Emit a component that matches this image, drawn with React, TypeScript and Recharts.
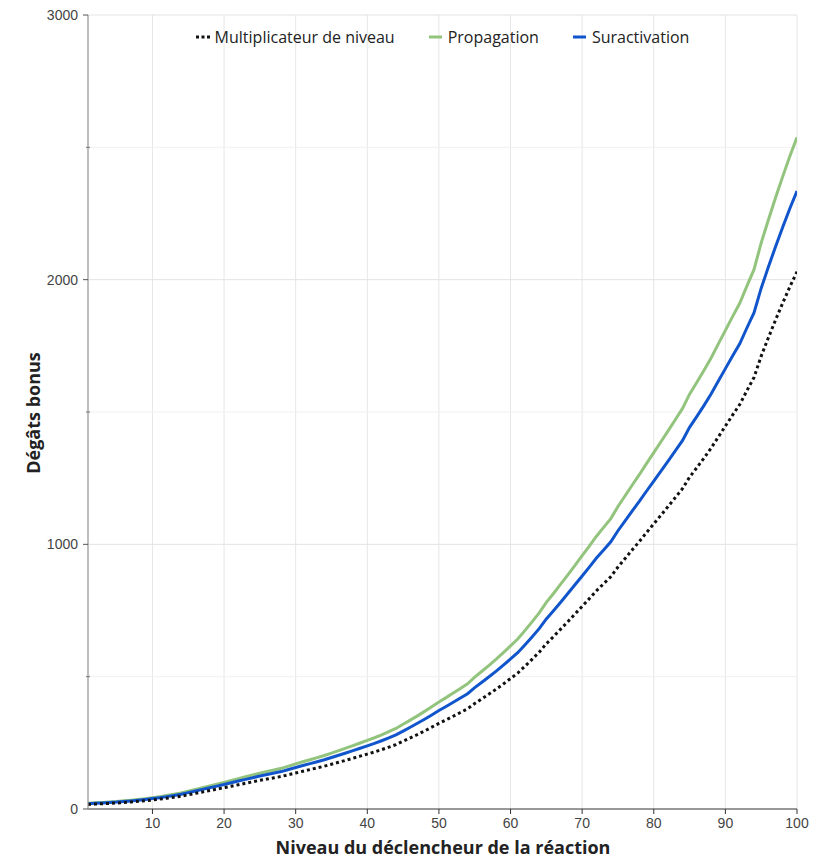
import React from 'react';
import { LineChart, Line, XAxis, YAxis, CartesianGrid, ReferenceLine, Legend } from 'recharts';

const levels: number[] = Array.from({ length: 100 }, (_, i) => i + 1);

const multiplicateur: number[] = [
  17.2, 18.5, 19.9, 21.3, 22.6, 24.6, 26.6, 28.9, 31.4, 34.1,
  37.2, 40.7, 44.4, 48.6, 53.7, 59.1, 64.4, 69.7, 75.1, 80.6,
  86.1, 91.7, 97.2, 102.8, 108.4, 113.2, 118.1, 123.0, 129.7, 136.3,
  142.7, 149.0, 155.4, 161.8, 169.1, 176.5, 184.1, 191.7, 199.6, 207.4,
  215.4, 224.2, 233.5, 243.4, 256.1, 268.5, 281.5, 295.0, 309.1, 323.6,
  336.8, 350.5, 364.5, 378.6, 398.6, 416.4, 434.4, 453.0, 472.6, 492.9,
  513.6, 539.1, 565.5, 592.5, 624.4, 651.5, 679.5, 707.8, 736.7, 765.6,
  794.8, 824.7, 851.2, 877.7, 914.2, 946.7, 979.4, 1011.2, 1044.8, 1077.4,
  1110.0, 1143.0, 1176.4, 1210.2, 1253.8, 1289.0, 1325.5, 1363.5, 1405.1, 1446.9,
  1488.2, 1528.4, 1580.4, 1630.8, 1711.2, 1780.5, 1847.3, 1911.5, 1972.9, 2030.1,
];

const propagation: number[] = [
  21.5, 23.2, 24.9, 26.6, 28.3, 30.8, 33.3, 36.1, 39.2, 42.7,
  46.5, 50.8, 55.6, 60.7, 67.2, 73.9, 80.5, 87.2, 93.9, 100.7,
  107.6, 114.6, 121.6, 128.5, 135.5, 141.5, 147.6, 153.7, 162.2, 170.4,
  178.3, 186.3, 194.3, 202.3, 211.4, 220.6, 230.1, 239.6, 249.4, 259.2,
  269.2, 280.2, 291.9, 304.2, 320.1, 335.7, 351.9, 368.8, 386.3, 404.5,
  420.9, 438.2, 455.6, 473.3, 498.3, 520.5, 543.0, 566.2, 590.8, 616.1,
  642.0, 673.9, 706.9, 740.7, 780.6, 814.3, 849.4, 884.7, 920.8, 957.1,
  993.5, 1030.8, 1063.9, 1097.2, 1142.8, 1183.4, 1224.3, 1264.0, 1306.0, 1346.8,
  1387.5, 1428.7, 1470.5, 1512.7, 1567.3, 1611.2, 1656.9, 1704.3, 1756.4, 1808.6,
  1860.3, 1910.6, 1975.5, 2038.6, 2139.0, 2225.6, 2309.2, 2389.3, 2466.1, 2537.6,
];

const suractivation: number[] = [
  19.7, 21.3, 22.9, 24.5, 26.0, 28.3, 30.6, 33.2, 36.1, 39.3,
  42.8, 46.8, 51.1, 55.8, 61.8, 67.9, 74.1, 80.2, 86.4, 92.7,
  99.0, 105.5, 111.8, 118.2, 124.7, 130.2, 135.8, 141.4, 149.2, 156.7,
  164.1, 171.4, 178.7, 186.1, 194.5, 203.0, 211.7, 220.5, 229.5, 238.5,
  247.7, 257.8, 268.5, 279.9, 294.5, 308.8, 323.8, 339.3, 355.4, 372.1,
  387.3, 403.1, 419.2, 435.4, 458.4, 478.9, 499.5, 520.9, 543.5, 566.8,
  590.6, 620.0, 650.3, 681.4, 718.1, 749.2, 781.4, 814.0, 847.2, 880.5,
  914.0, 948.4, 978.8, 1009.4, 1051.4, 1088.8, 1126.3, 1162.9, 1201.5, 1239.1,
  1276.5, 1314.4, 1352.8, 1391.7, 1441.9, 1482.3, 1524.3, 1568.0, 1615.9, 1663.9,
  1711.4, 1757.7, 1817.4, 1875.5, 1967.9, 2047.5, 2124.4, 2198.2, 2268.8, 2334.6,
];

const xTicks: number[] = [10, 20, 30, 40, 50, 60, 70, 80, 90, 100];
const yTicks: number[] = [0, 500, 1000, 1500, 2000, 2500, 3000];
const yMajor: number[] = [0, 1000, 2000, 3000];
const yMinor: number[] = [500, 1500, 2500];

const seriesNames = {
  mult: 'Multiplicateur de niveau',
  prop: 'Propagation',
  sur: 'Suractivation',
};
const xTitle = 'Niveau du déclencheur de la réaction';
const yTitle = 'Dégâts bonus';

const colors = { mult: '#111111', prop: '#93c47d', sur: '#1155cc' };

const data = levels.map((lv, i) => ({
  level: lv,
  mult: multiplicateur[i],
  prop: propagation[i],
  sur: suractivation[i],
}));

const tickFont = '"Liberation Sans", Arial, sans-serif';
const textFont = '"Open Sans", sans-serif';

const YTick = (props: any) => {
  const { x, y, payload } = props;
  const v = payload.value;
  const major = yMajor.includes(v);
  if (major) {
    return (
      <g>
        <line x1={x - 5} x2={x} y1={y} y2={y} stroke="#555" strokeWidth={1} />
        <text x={x - 10} y={y} dy="0.35em" textAnchor="end" fontSize={14} fill="#444" fontFamily={tickFont}>
          {v}
        </text>
      </g>
    );
  }
  return <line x1={x - 2} x2={x + 2} y1={y} y2={y} stroke="#777" strokeWidth={1} />;
};

const LegendContent = () => {
  const item = (key: 'mult' | 'prop' | 'sur') => (
    <div key={key} style={{ display: 'flex', alignItems: 'center', marginRight: key === 'sur' ? 0 : 34 }}>
      <svg width={14} height={10} style={{ marginRight: 5 }}>
        {key === 'mult' ? (
          <g fill={colors.mult}>
            <rect x={0} y={3.5} width={3} height={3} />
            <rect x={5.5} y={3.5} width={3} height={3} />
            <rect x={11} y={3.5} width={3} height={3} />
          </g>
        ) : (
          <rect x={0} y={3.5} width={13} height={3} fill={colors[key]} />
        )}
      </svg>
      <span style={{ fontFamily: textFont, fontSize: 16, color: '#222' }}>{seriesNames[key]}</span>
    </div>
  );
  return (
    <div style={{ display: 'flex', justifyContent: 'center', alignItems: 'center', width: '100%' }}>
      {item('mult')}
      {item('prop')}
      {item('sur')}
    </div>
  );
};

export default function App() {
  return (
    <div style={{ position: 'absolute', left: 0, top: 0, width: 821, height: 855, background: '#fff' }}>
      <LineChart width={821} height={855} data={data} margin={{ top: 15, right: 24, bottom: 0, left: 0 }}>
        <CartesianGrid horizontal={false} stroke="#e6e6e6" strokeWidth={1} />
        {yMinor.map((v) => (
          <ReferenceLine key={'mn' + v} y={v} stroke="#f1f1f1" strokeWidth={1} />
        ))}
        {yMajor.filter((v) => v > 0).map((v) => (
          <ReferenceLine key={'mj' + v} y={v} stroke="#e3e3e3" strokeWidth={1} />
        ))}
        <XAxis
          dataKey="level"
          type="number"
          domain={[1, 100]}
          ticks={xTicks}
          allowDataOverflow
          height={46}
          stroke="#333"
          tickSize={5}
          tickMargin={4}
          tick={{ fontSize: 14, fill: '#444', fontFamily: tickFont }}
          tickLine={{ stroke: '#333' }}
          axisLine={{ stroke: '#333', strokeWidth: 1.2 }}
          label={{
            content: () => (
              <text x={443} y={854} textAnchor="middle" fontFamily={textFont} fontWeight={700} fontSize={18} fill="#222">
                {xTitle}
              </text>
            ),
          }}
        />
        <YAxis
          type="number"
          domain={[0, 3000]}
          ticks={yTicks}
          width={88}
          tickSize={0}
          tickMargin={0}
          tickLine={false}
          tick={<YTick />}
          axisLine={{ stroke: '#999', strokeWidth: 1.2 }}
          interval={0}
          label={{
            content: () => (
              <text x={33} y={413} transform="rotate(-90 33 413)" textAnchor="middle" dominantBaseline="central" fontFamily={textFont} fontWeight={700} fontSize={18} fill="#222">
                {yTitle}
              </text>
            ),
          }}
        />
        <Legend
          verticalAlign="middle"
          align="center"
          layout="horizontal"
          content={<LegendContent />}
          wrapperStyle={{ top: 26, left: 88, width: 709, height: 24 }}
        />
        <Line
          type="linear"
          dataKey="prop"
          name={seriesNames.prop}
          stroke={colors.prop}
          strokeWidth={3}
          dot={false}
          activeDot={false}
          isAnimationActive={false}
        />
        <Line
          type="linear"
          dataKey="sur"
          name={seriesNames.sur}
          stroke={colors.sur}
          strokeWidth={3}
          dot={false}
          activeDot={false}
          isAnimationActive={false}
        />
        <Line
          type="linear"
          dataKey="mult"
          name={seriesNames.mult}
          stroke={colors.mult}
          strokeWidth={3}
          strokeDasharray="3 3"
          dot={false}
          activeDot={false}
          isAnimationActive={false}
        />
      </LineChart>
    </div>
  );
}
